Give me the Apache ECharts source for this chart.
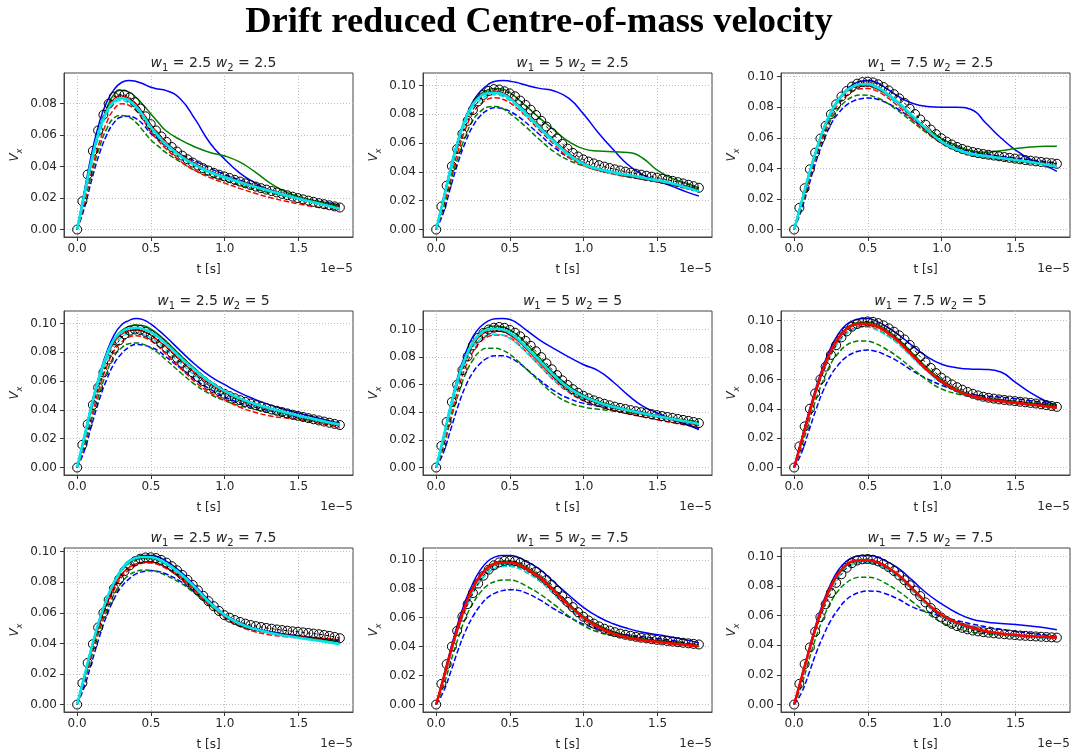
<!DOCTYPE html>
<html><head><meta charset="utf-8">
<script src="https://cdn.jsdelivr.net/npm/echarts@6/dist/echarts.min.js"></script>
<style>html,body{margin:0;padding:0;background:#fff}#c{width:1078px;height:755px}</style>
</head><body><div id="c"></div>
<script>
// ---- data (time in units of 1e-5 s) ----
const panelW = [[2.5,2.5],[5,2.5],[7.5,2.5],[2.5,5],[5,5],[7.5,5],[2.5,7.5],[5,7.5],[7.5,7.5]];
const xTicks = [0, 0.5, 1.0, 1.5];
const yTicks = [0, 0.02, 0.04, 0.06, 0.08, 0.10];
const tLine = [0,0.05,0.1,0.15,0.2,0.25,0.3,0.35,0.4,0.45,0.5,0.55,0.6,0.7,0.8,0.9,1.0,1.1,1.2,1.3,1.4,1.5,1.6,1.7,1.78];
const tRef = [0,0.0356,0.0712,0.1068,0.1424,0.178,0.2136,0.2492,0.2848,0.3204,0.356,0.3916,0.4272,0.4628,0.4984,0.534,0.5696,0.6052,0.6408,0.6764,0.712,0.7476,0.7832,0.8188,0.8544,0.89,0.9256,0.9612,0.9968,1.0324,1.068,1.1036,1.1392,1.1748,1.2104,1.246,1.2816,1.3172,1.3528,1.3884,1.424,1.4596,1.4952,1.5308,1.5664,1.602,1.6376,1.6732,1.7088,1.7444,1.78];

const refCircles = [
[0,.018,.035,.050,.063,.073,.080,.0845,.086,.0858,.084,.081,.077,.072,.067,.063,.0592,.0558,.0525,.0496,.0470,.0447,.0426,.0407,.0390,.0375,.0361,.0349,.0338,.0328,.0316,.0305,.0294,.0283,.0273,.0263,.0254,.0245,.0236,.0227,.0218,.0209,.0200,.0192,.0184,.0176,.0168,.0161,.0154,.0147,.0140],
[0,.0160,.0305,.0440,.0560,.0665,.0755,.0830,.0890,.0935,.0962,.0975,.0972,.0960,.0945,.0925,.0895,.0865,.0832,.0795,.0755,.0715,.0672,.0632,.0595,.0562,.0532,.0507,.0487,.0472,.0459,.0447,.0437,.0427,.0418,.0410,.0402,.0395,.0388,.0381,.0374,.0367,.0360,.0353,.0346,.0338,.0329,.0320,.0311,.0301,.0290],
[0,.0142,.0270,.0394,.0503,.0595,.0678,.0754,.0819,.0870,.0906,.0935,.0954,.0964,.0967,.0962,.0950,.0932,.0910,.0885,.0858,.0828,.0790,.0755,.0720,.0686,.0654,.0624,.0597,.0575,.0556,.0540,.0527,.0516,.0507,.0500,.0494,.0489,.0484,.0479,.0474,.0469,.0464,.0459,.0454,.0450,.0446,.0442,.0438,.0434,.0430],
[0,.0158,.0300,.0435,.0555,.0660,.0750,.0825,.0883,.0925,.0950,.0958,.0955,.0942,.0922,.0895,.0865,.0832,.0797,.0762,.0727,.0693,.0660,.0629,.0600,.0573,.0550,.0530,.0512,.0496,.0481,.0468,.0456,.0444,.0433,.0423,.0413,.0403,.0394,.0385,.0376,.0367,.0359,.0351,.0343,.0335,.0327,.0319,.0311,.0303,.0295],
[0,.0157,.0330,.0475,.0600,.0705,.0805,.0885,.0940,.0975,.1000,.1013,.1018,.1012,.0998,.0977,.0950,.0918,.0882,.0842,.0800,.0755,.0712,.0670,.0632,.0598,.0568,.0542,.0520,.0502,.0487,.0474,.0462,.0451,.0441,.0432,.0424,.0416,.0408,.0401,.0394,.0387,.0380,.0373,.0366,.0359,.0352,.0345,.0338,.0330,.0322],
[0,.0144,.0280,.0400,.0505,.0600,.0687,.0767,.0833,.0886,.0927,.0959,.0977,.0990,.0995,.0992,.0983,.0968,.0948,.0925,.0900,.0872,.0835,.0795,.0755,.0716,.0678,.0643,.0612,.0588,.0566,.0547,.0530,.0515,.0502,.0491,.0482,.0475,.0469,.0464,.0460,.0456,.0452,.0448,.0444,.0440,.0436,.0431,.0425,.0419,.0413],
[0,.0140,.0272,.0395,.0504,.0600,.0684,.0759,.0820,.0872,.0910,.0937,.0954,.0962,.0963,.0958,.0946,.0928,.0905,.0878,.0848,.0816,.0782,.0747,.0711,.0676,.0643,.0612,.0585,.0568,.0553,.0540,.0529,.0520,.0513,.0507,.0501,.0496,.0491,.0487,.0483,.0479,.0476,.0472,.0468,.0464,.0460,.0455,.0449,.0442,.0434],
[0,.0143,.0279,.0401,.0509,.0608,.0694,.0770,.0836,.0890,.0932,.0962,.0982,.0992,.0994,.0990,.0980,.0964,.0943,.0918,.0890,.0860,.0828,.0785,.0748,.0710,.0673,.0638,.0607,.0581,.0559,.0540,.0524,.0511,.0500,.0490,.0482,.0475,.0468,.0462,.0457,.0452,.0447,.0443,.0439,.0435,.0431,.0427,.0423,.0419,.0415],
[0,.0140,.0273,.0386,.0492,.0591,.0677,.0754,.0822,.0880,.0924,.0955,.0973,.0981,.0983,.0978,.0967,.0950,.0928,.0902,.0872,.0840,.0806,.0770,.0733,.0690,.0652,.0618,.0588,.0564,.0545,.0530,.0518,.0508,.0500,.0494,.0489,.0485,.0481,.0478,.0475,.0472,.0469,.0466,.0464,.0462,.0460,.0458,.0456,.0454,.0452]
];

const blueSolid = [
[0,.025,.049,.068,.081,.089,.0935,.0948,.0942,.0925,.0905,.0893,.0885,.083,.070,.055,.0447,.036,.030,.025,.0224,.020,.0185,.017,.0155],
[0,.022,.044,.063,.078,.089,.096,.1005,.103,.1035,.103,.102,.1005,.098,.0962,.091,.080,.067,.0555,.045,.038,.0338,.030,.026,.0233],
[0,.018,.036,.052,.066,.077,.085,.091,.095,.097,.0975,.0965,.094,.0874,.0826,.0805,.080,.080,.0785,.0695,.060,.052,.046,.042,.038],
[0,.022,.045,.064,.080,.092,.099,.102,.1035,.1025,.0995,.0955,.091,.081,.0715,.0635,.0575,.052,.0475,.0437,.0405,.0378,.0352,.0327,.0308],
[0,.022,.046,.067,.083,.095,.102,.106,.1078,.108,.1072,.1045,.1005,.0925,.086,.080,.0745,.070,.062,.0525,.0445,.0395,.035,.031,.0275],
[0,.019,.038,.055,.070,.082,.091,.097,.100,.1013,.1015,.100,.0975,.091,.083,.0755,.0703,.068,.067,.0668,.065,.058,.051,.0455,.0425],
[0,.019,.038,.055,.069,.080,.0885,.094,.0965,.0975,.0975,.0965,.094,.087,.0775,.0675,.059,.0535,.050,.0478,.0462,.045,.0438,.0426,.0415],
[0,.019,.039,.057,.072,.084,.093,.099,.102,.103,.103,.102,.0995,.0935,.0845,.0755,.067,.0605,.0558,.0525,.050,.0483,.0465,.0445,.0425],
[0,.018,.037,.055,.070,.082,.091,.0965,.0995,.1005,.1007,.100,.098,.0925,.084,.075,.068,.062,.0578,.0558,.0548,.054,.053,.0518,.0505]
];
const greenSolid = [
[0,.022,.044,.063,.077,.086,.0885,.0875,.084,.079,.0735,.068,.063,.057,.0525,.049,.0468,.043,.037,.030,.0245,.021,.0185,.0165,.015],
[0,.021,.043,.062,.077,.088,.094,.097,.098,.0975,.095,.091,.0865,.0775,.069,.061,.056,.0545,.054,.0535,.0495,.041,.0355,.032,.029],
[0,.018,.036,.052,.066,.077,.085,.0905,.0935,.095,.095,.0935,.091,.083,.074,.066,.0595,.055,.0515,.0505,.0515,.053,.054,.0545,.0545],
[0,.022,.044,.063,.078,.089,.095,.098,.099,.0985,.096,.0925,.088,.078,.0685,.060,.053,.048,.0443,.0413,.0386,.036,.0335,.031,.029],
[0,.022,.045,.065,.080,.091,.098,.1015,.1025,.102,.0995,.096,.091,.0795,.068,.059,.0525,.048,.0448,.042,.0397,.0375,.0355,.0338,.0325],
[0,.018,.036,.053,.068,.080,.0885,.0945,.098,.099,.099,.098,.0955,.088,.078,.068,.0598,.0535,.0495,.047,.0456,.0446,.0437,.043,.0425],
[0,.019,.038,.055,.069,.0795,.0875,.0925,.095,.0955,.0955,.0943,.092,.085,.076,.0665,.0585,.053,.0495,.0472,.0456,.0443,.0431,.042,.041],
[0,.018,.037,.054,.069,.081,.0895,.095,.098,.099,.099,.098,.0955,.089,.0795,.0695,.061,.0548,.0503,.0474,.0455,.0441,.0429,.0418,.0408],
[0,.018,.036,.053,.068,.0795,.088,.0935,.0965,.097,.097,.096,.094,.0875,.078,.068,.060,.055,.0515,.049,.0475,.0465,.0458,.0452,.0447]
];
const redSolid = [
[0,.023,.045,.063,.076,.083,.085,.0835,.0795,.0735,.0665,.061,.0558,.0478,.0418,.0372,.0338,.0307,.0278,.0251,.0226,.0201,.0178,.0157,.0142],
[0,.021,.043,.062,.077,.0875,.093,.0955,.096,.095,.092,.0875,.0825,.072,.062,.053,.0462,.042,.0395,.0375,.0357,.0338,.0318,.0295,.0275],
[0,.018,.036,.052,.066,.077,.0845,.090,.093,.094,.094,.0925,.090,.083,.074,.065,.0575,.0525,.0495,.0478,.0465,.0452,.044,.0427,.0415],
[0,.021,.043,.062,.077,.087,.0925,.095,.0955,.0945,.092,.088,.084,.0745,.0655,.058,.052,.047,.0435,.0405,.038,.0356,.0333,.031,.029],
[0,.021,.044,.064,.079,.089,.0955,.0985,.099,.0985,.096,.092,.087,.076,.065,.0565,.0505,.0465,.0435,.041,.0388,.0367,.0346,.0325,.0305],
[0,.018,.036,.053,.068,.0795,.088,.094,.097,.0978,.0977,.0965,.094,.0865,.0765,.0665,.0585,.0525,.0488,.0465,.0451,.044,.043,.0418,.0408],
[0,.018,.036,.052,.066,.077,.085,.0895,.092,.093,.093,.092,.0898,.0835,.075,.066,.058,.0525,.049,.047,.0457,.0447,.0438,.043,.0423],
[0,.018,.037,.054,.069,.081,.089,.0945,.0975,.098,.098,.097,.0945,.088,.0785,.0685,.060,.0535,.049,.0462,.0445,.0433,.0422,.0412,.0403],
[0,.018,.036,.053,.068,.080,.0885,.094,.097,.0975,.0975,.0965,.0945,.088,.0785,.0685,.0605,.0555,.052,.0495,.048,.047,.0463,.0457,.0452]
];
const cyanSolid = [
[0,.023,.045,.063,.075,.0815,.0835,.082,.078,.072,.065,.0595,.0545,.0468,.041,.0366,.0332,.0302,.0273,.0247,.0222,.0197,.0174,.0152,.0132],
[0,.021,.043,.062,.077,.087,.0925,.0948,.095,.094,.091,.0865,.0815,.071,.061,.052,.0455,.042,.0397,.0378,.036,.034,.032,.029,.0265],
[0,.018,.036,.052,.066,.077,.085,.0905,.0935,.095,.095,.0935,.091,.0835,.0745,.0655,.0575,.0525,.0495,.048,.0468,.0455,.0442,.0425,.041],
[0,.022,.044,.063,.078,.089,.094,.0965,.097,.096,.094,.0905,.086,.0765,.0675,.0595,.053,.048,.0443,.0412,.0385,.036,.0337,.0315,.0298],
[0,.022,.045,.065,.080,.0905,.097,.100,.1005,.100,.0975,.0935,.0885,.0775,.0665,.0575,.0515,.0472,.044,.0415,.0393,.0372,.0352,.0333,.0315],
[0,.018,.036,.053,.068,.079,.0875,.0935,.0965,.0975,.0975,.096,.0935,.086,.076,.066,.058,.052,.0485,.0463,.0449,.0438,.0428,.0416,.0405],
[0,.019,.038,.055,.069,.080,.088,.0935,.096,.0965,.0963,.095,.0925,.0855,.0765,.0665,.0585,.053,.0495,.047,.0452,.0437,.0422,.0408,.0395],
[0,.018,.036,.053,.068,.079,.0875,.093,.096,.097,.097,.096,.0935,.087,.0775,.0678,.0595,.0532,.0488,.046,.0444,.0432,.0421,.0411,.0402],
[0,.018,.036,.053,.068,.0795,.0878,.0932,.0962,.0968,.0968,.0958,.0938,.0872,.0778,.0678,.0598,.0548,.0513,.0488,.0473,.0463,.0456,.045,.0445]
];
const blueDashed = [
[0,.014,.032,.048,.060,.068,.0715,.072,.0705,.0665,.061,.0575,.054,.048,.0435,.039,.035,.0315,.0283,.0254,.0227,.0202,.0178,.0156,.0138],
[0,.012,.030,.047,.061,.072,.079,.083,.0845,.084,.082,.079,.075,.066,.057,.050,.0455,.042,.0395,.0375,.0357,.0338,.032,.030,.028],
[0,.013,.029,.045,.058,.069,.076,.081,.084,.0855,.086,.0855,.084,.079,.072,.065,.0585,.0535,.051,.0495,.048,.0468,.0456,.0445,.0435],
[0,.012,.030,.047,.061,.072,.079,.0835,.0855,.085,.0835,.081,.077,.069,.061,.0545,.049,.045,.042,.0395,.0372,.035,.033,.031,.0292],
[0,.011,.028,.045,.059,.069,.0755,.0795,.081,.081,.0795,.0765,.0725,.0635,.0555,.050,.0465,.0445,.043,.0418,.040,.0375,.0345,.0312,.028],
[0,.010,.025,.040,.053,.063,.070,.075,.078,.0795,.080,.0792,.0775,.0725,.066,.0605,.056,.0525,.050,.0487,.0478,.0468,.0455,.044,.0425],
[0,.012,.028,.044,.058,.069,.077,.082,.0855,.087,.0875,.087,.0855,.0805,.073,.065,.058,.0525,.049,.047,.0455,.0443,.0432,.0422,.0415],
[0,.009,.023,.038,.051,.061,.0685,.074,.077,.0787,.0793,.079,.0775,.0725,.066,.0605,.0555,.052,.0495,.048,.0468,.0456,.0442,.0425,.0408],
[0,.008,.021,.035,.047,.057,.0645,.0705,.074,.076,.0767,.0765,.0755,.0715,.066,.0625,.0596,.0568,.0545,.0525,.0508,.0494,.0482,.047,.046]
];
const greenDashed = [
[0,.017,.036,.052,.064,.071,.0725,.0715,.068,.0625,.057,.053,.049,.043,.0375,.034,.031,.0282,.0258,.0235,.0215,.0197,.0178,.016,.0145],
[0,.015,.034,.051,.065,.076,.082,.085,.0855,.084,.0805,.0765,.072,.0625,.054,.048,.0442,.041,.0388,.0368,.035,.0333,.0315,.0297,.0282],
[0,.015,.032,.048,.061,.072,.079,.084,.087,.088,.0878,.0865,.0845,.078,.0705,.063,.0565,.052,.049,.0472,.0458,.0446,.0435,.0426,.0418],
[0,.015,.034,.051,.066,.077,.083,.086,.0865,.0855,.083,.0795,.075,.066,.0575,.051,.0465,.043,.0405,.038,.036,.0342,.0323,.0305,.029],
[0,.015,.035,.053,.068,.078,.0845,.0865,.0865,.085,.082,.0775,.0725,.0625,.053,.047,.0438,.0422,.041,.0398,.0385,.0372,.0358,.0345,.0333],
[0,.014,.031,.047,.060,.071,.078,.083,.0855,.0862,.086,.0845,.082,.0755,.0675,.0595,.0535,.0503,.0485,.0472,.0462,.0452,.0442,.0432,.0422],
[0,.015,.032,.048,.061,.072,.0795,.0845,.087,.088,.0878,.0865,.0845,.0795,.0725,.0645,.0575,.0522,.049,.047,.0455,.0443,.0433,.0425,.0418],
[0,.013,.030,.046,.060,.070,.0775,.0825,.085,.086,.086,.085,.0825,.0765,.069,.061,.0545,.050,.0475,.0462,.0452,.0443,.0433,.0422,.041],
[0,.013,.030,.046,.059,.0695,.077,.082,.085,.086,.086,.0852,.083,.077,.0695,.0618,.0555,.0515,.049,.0478,.047,.0465,.046,.0456,.0452]
];
const redDashed = [
[0,.018,.038,.055,.068,.0765,.080,.079,.0755,.0695,.062,.0565,.0515,.0435,.0375,.033,.0295,.0262,.0232,.0205,.0183,.0163,.0146,.0133,.0125],
[0,.017,.037,.055,.070,.081,.087,.0905,.0915,.0905,.088,.084,.0795,.069,.059,.050,.0445,.041,.0385,.0365,.0348,.033,.031,.0288,.027],
[0,.016,.033,.049,.063,.074,.082,.087,.0905,.092,.0922,.091,.0885,.081,.072,.0635,.0565,.052,.049,.0475,.0462,.045,.0438,.0426,.0415],
[0,.017,.037,.055,.070,.081,.087,.0905,.0915,.0905,.088,.084,.079,.069,.0595,.052,.047,.042,.0385,.036,.0345,.0333,.0315,.0295,.0275],
[0,.017,.038,.057,.073,.084,.091,.0948,.096,.0958,.094,.090,.085,.074,.063,.0545,.0483,.0445,.0415,.039,.0367,.0345,.0325,.0306,.029],
[0,.017,.035,.052,.066,.077,.0855,.091,.0945,.096,.096,.0945,.092,.085,.0755,.066,.058,.052,.0483,.046,.0447,.0437,.0427,.0416,.0405],
[0,.016,.034,.050,.064,.075,.083,.088,.091,.0925,.0925,.0915,.0892,.0825,.074,.065,.0568,.0512,.0478,.0457,.0445,.0435,.0427,.042,.0413],
[0,.017,.035,.052,.066,.077,.0855,.091,.094,.0955,.0955,.0945,.092,.0855,.0762,.0665,.0585,.0525,.0483,.0457,.044,.0428,.0418,.0408,.040],
[0,.017,.035,.052,.066,.078,.0865,.092,.095,.096,.096,.095,.093,.0865,.077,.0672,.0595,.0548,.0515,.0492,.0477,.0467,.046,.0454,.0449]
];
const cyanDashed = [
[0,.020,.042,.060,.073,.080,.082,.0805,.0765,.0705,.0638,.0583,.0535,.046,.0403,.036,.0326,.0296,.0268,.0243,.0218,.0194,.0172,.0151,.0133],
[0,.019,.040,.059,.074,.084,.090,.093,.0935,.0925,.0895,.085,.080,.070,.060,.051,.045,.0415,.039,.037,.0352,.0334,.0315,.0293,.027],
[0,.017,.035,.051,.065,.0755,.0835,.089,.092,.0935,.0935,.092,.0895,.082,.0735,.065,.057,.052,.049,.0475,.0462,.045,.0438,.0425,.041],
[0,.019,.040,.059,.074,.085,.0905,.093,.0935,.0925,.090,.0865,.082,.0725,.064,.0565,.0505,.046,.0428,.040,.0375,.0353,.0332,.031,.0295],
[0,.019,.041,.061,.076,.087,.093,.096,.0965,.096,.0935,.0895,.0845,.074,.0635,.055,.0495,.046,.0433,.041,.0388,.0367,.0347,.0328,.031],
[0,.017,.035,.052,.066,.077,.085,.0905,.094,.0955,.0955,.094,.0915,.0845,.075,.0655,.0575,.0515,.048,.0458,.0445,.0435,.0425,.0414,.0403],
[0,.018,.037,.054,.068,.079,.087,.092,.0945,.0955,.0953,.094,.0915,.0848,.0758,.066,.058,.0526,.0492,.047,.0453,.0439,.0426,.0413,.0401],
[0,.017,.035,.052,.066,.077,.0855,.091,.094,.0953,.0955,.0945,.092,.0855,.0765,.067,.059,.0532,.0492,.0467,.045,.0438,.0427,.0417,.0408],
[0,.017,.035,.052,.066,.078,.0862,.0918,.0948,.0958,.0958,.0948,.0928,.0862,.0768,.067,.0593,.0545,.0512,.049,.0475,.0465,.0458,.0452,.0447]
];

// ---- style / layout config ----
const emphasised = ['cyan','cyan','cyan','cyan','cyan','red','cyan','red','red'];
const colors = {blue:'#0000ff', green:'#008000', red:'#ff0000', cyan:'#00e5e5'};
const colLeft = [64, 423, 781], rowTop = [73, 311, 548], gW = 289, gH = 164;
const FONT = 'DejaVu Sans';
const TXT = '#262626';

const chart = echarts.init(document.getElementById('c'), null, {renderer:'canvas'});
const pairs = (xs, ys) => xs.map((x, i) => [x, ys[i]]);

const grids = [], xAxes = [], yAxes = [], series = [], titles = [], graphics = [];
titles.push({text:'Drift reduced Centre-of-mass velocity', left:'center', top:-1,
  textStyle:{fontFamily:'Liberation Serif', fontWeight:'bold', fontSize:36.5, color:'#000'}});

for (let p = 0; p < 9; p++) {
  const r = Math.floor(p / 3), c = p % 3;
  const left = colLeft[c], top = rowTop[r];
  grids.push({left, top, width:gW, height:gH, show:true, borderColor:'#444', borderWidth:1, backgroundColor:'transparent'});
  const all = [refCircles[p], blueSolid[p], greenSolid[p], redSolid[p], cyanSolid[p], blueDashed[p], greenDashed[p], redDashed[p], cyanDashed[p]];
  const M = Math.max(...all.map(a => Math.max(...a)));
  const tMax = tRef[tRef.length - 1];
  const yT = yTicks.filter(v => v <= 1.05*M);
  xAxes.push({gridIndex:p, type:'value', min:-0.05*tMax, max:1.05*tMax,
    axisLine:{show:true, onZero:false, lineStyle:{color:'#444', width:1}},
    axisTick:{show:true, customValues:xTicks, length:4, lineStyle:{color:'#333'}},
    axisLabel:{customValues:xTicks, formatter:v => v.toFixed(1), margin:6, fontSize:12, fontFamily:FONT, color:TXT},
    splitLine:{show:true, lineStyle:{type:[1,2], color:'#bdbdbd', width:1}},
    name:'t [s]', nameLocation:'middle', nameGap:27, nameTextStyle:{fontSize:12, fontFamily:FONT, color:TXT}});
  yAxes.push({gridIndex:p, type:'value', min:-0.05*M, max:1.05*M,
    axisLine:{show:true, onZero:false, lineStyle:{color:'#444', width:1}},
    axisTick:{show:true, customValues:yT, length:4, lineStyle:{color:'#333'}},
    axisLabel:{customValues:yT, formatter:v => v.toFixed(2), margin:7, fontSize:12, fontFamily:FONT, color:TXT},
    splitLine:{show:true, lineStyle:{type:[1,2], color:'#bdbdbd', width:1}},
    name:'{v|V}{s|x}', nameLocation:'middle', nameGap:40, nameRotate:90,
    nameTextStyle:{color:TXT, rich:{v:{fontSize:12, fontFamily:FONT, fontStyle:'italic', color:TXT, lineHeight:18, verticalAlign:'middle'},
                                    s:{fontSize:8.5, fontFamily:FONT, fontStyle:'italic', color:TXT, verticalAlign:'bottom', lineHeight:18}}}});
  const [w1, w2] = panelW[p];
  titles.push({text:`{i|w}{s|1}{n| = ${w1} }{i|w}{s|2}{n| = ${w2}}`, left:left + gW/2, top:top - 25, textAlign:'center',
    textStyle:{fontWeight:'normal', rich:{
      i:{fontFamily:FONT, fontStyle:'italic', fontWeight:'normal', fontSize:14, color:TXT, lineHeight:20, verticalAlign:'middle'},
      n:{fontFamily:FONT, fontWeight:'normal', fontSize:14, color:TXT, lineHeight:20, verticalAlign:'middle'},
      s:{fontFamily:FONT, fontWeight:'normal', fontSize:10, color:TXT, lineHeight:20, verticalAlign:'bottom'}}}});
  graphics.push({type:'text', x:left + gW, y:top + gH + 32, style:{text:'1e\u22125', fill:TXT, font:`12px "${FONT}"`, align:'right', verticalAlign:'middle'}});

  const lineSeries = (name, data, color, dashed, width, z) => ({
    type:'line', name, xAxisIndex:p, yAxisIndex:p, data:pairs(tLine, data), showSymbol:false, symbol:'none',
    smooth:0.5, z,
    lineStyle:{color, width, type: dashed ? [5.5, 2.4] : 'solid', cap:'butt'}, silent:true, animation:false});

  series.push(lineSeries('blue dashed', blueDashed[p], colors.blue, true, 1.5, 2));
  series.push(lineSeries('green dashed', greenDashed[p], colors.green, true, 1.5, 2));
  series.push(lineSeries('red dashed', redDashed[p], colors.red, true, 1.5, 2));
  series.push(lineSeries('cyan dashed', cyanDashed[p], colors.cyan, true, 1.5, 2));
  series.push(lineSeries('blue', blueSolid[p], colors.blue, false, 1.5, 2));
  series.push(lineSeries('green', greenSolid[p], colors.green, false, 1.5, 2));
  if (emphasised[p] !== 'red') series.push(lineSeries('red', redSolid[p], colors.red, false, 1.5, 2));
  if (emphasised[p] !== 'cyan') series.push(lineSeries('cyan', cyanSolid[p], colors.cyan, false, 1.5, 2));
  series.push({type:'line', name:'reference', xAxisIndex:p, yAxisIndex:p, data:pairs(tRef, refCircles[p]),
    symbol:'circle', symbolSize:9, showSymbol:true, showAllSymbol:true, z:3,
    itemStyle:{color:'rgba(0,0,0,0)', borderColor:'#000', borderWidth:1},
    lineStyle:{color:'#000', width:1, type:[3,3]}, silent:true, animation:false});
  const ep = emphasised[p];
  series.push(lineSeries(ep + ' main', ep === 'red' ? redSolid[p] : cyanSolid[p], colors[ep], false, 2.6, 4));
}

chart.setOption({backgroundColor:'#fff', animation:false, title:titles, grid:grids, xAxis:xAxes, yAxis:yAxes, series, graphic:graphics});
</script></body></html>
